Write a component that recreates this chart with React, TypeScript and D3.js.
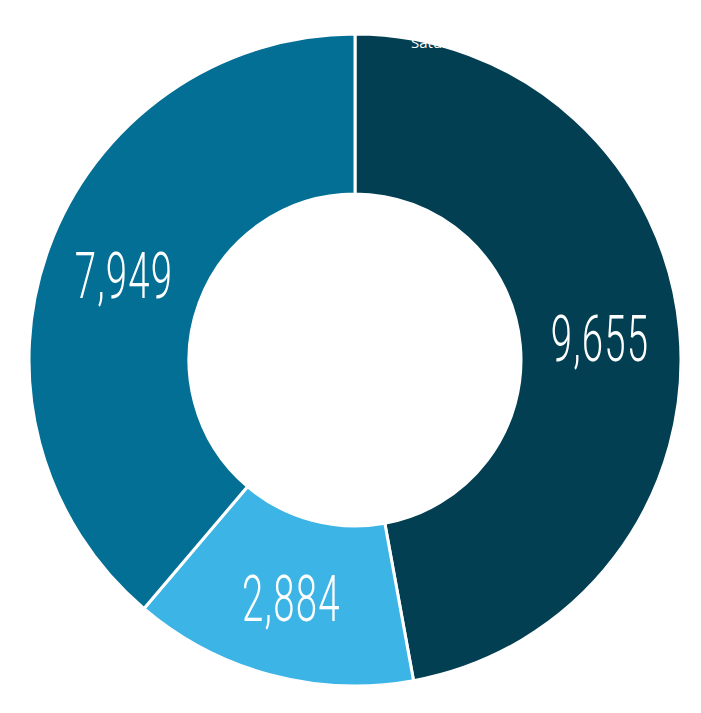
import React from "react";
import * as d3 from "d3";

const categories = ["A", "B", "C"];
const values = [9655, 2884, 7949];
const colors = ["#023f52", "#3db4e6", "#036f94"];
const title = "Saturday";

export default function App() {
  const W = 701, H = 713;
  const cx = 355, cy = 360;
  const outerR = 326, innerR = 166;
  const pie = d3.pie<number>().sort(null).value((d) => d);
  const arcs = pie(values);
  const arc = d3.arc<d3.PieArcDatum<number>>().innerRadius(innerR).outerRadius(outerR);
  const fmt = d3.format(",");
  return (
    <svg width={W} height={H} style={{ position: "absolute", left: 0, top: 0, display: "block" }}>
      <g transform={`translate(${cx},${cy})`}>
        {arcs.map((a, i) => (
          <path key={categories[i]} d={arc(a) || ""} fill={colors[i]} stroke="#fff" strokeWidth={3} />
        ))}
        {arcs.map((a, i) => {
          const [x, y] = arc.centroid(a);
          return (
            <g key={"t" + i} transform={`translate(${x},${y + 23}) scale(0.6,1)`}>
              <text
                x={0}
                y={0}
                textAnchor="middle"
                fill="#fff"
                fontFamily="Roboto, 'DejaVu Sans Condensed', sans-serif"
                fontWeight={300}
                fontSize={64}
                letterSpacing={2}
              >
                {fmt(values[i])}
              </text>
            </g>
          );
        })}
      </g>
      <text x={411} y={48} fill="#fff" fontFamily="'Open Sans', sans-serif" fontSize={15}>
        {title}
      </text>
    </svg>
  );
}
